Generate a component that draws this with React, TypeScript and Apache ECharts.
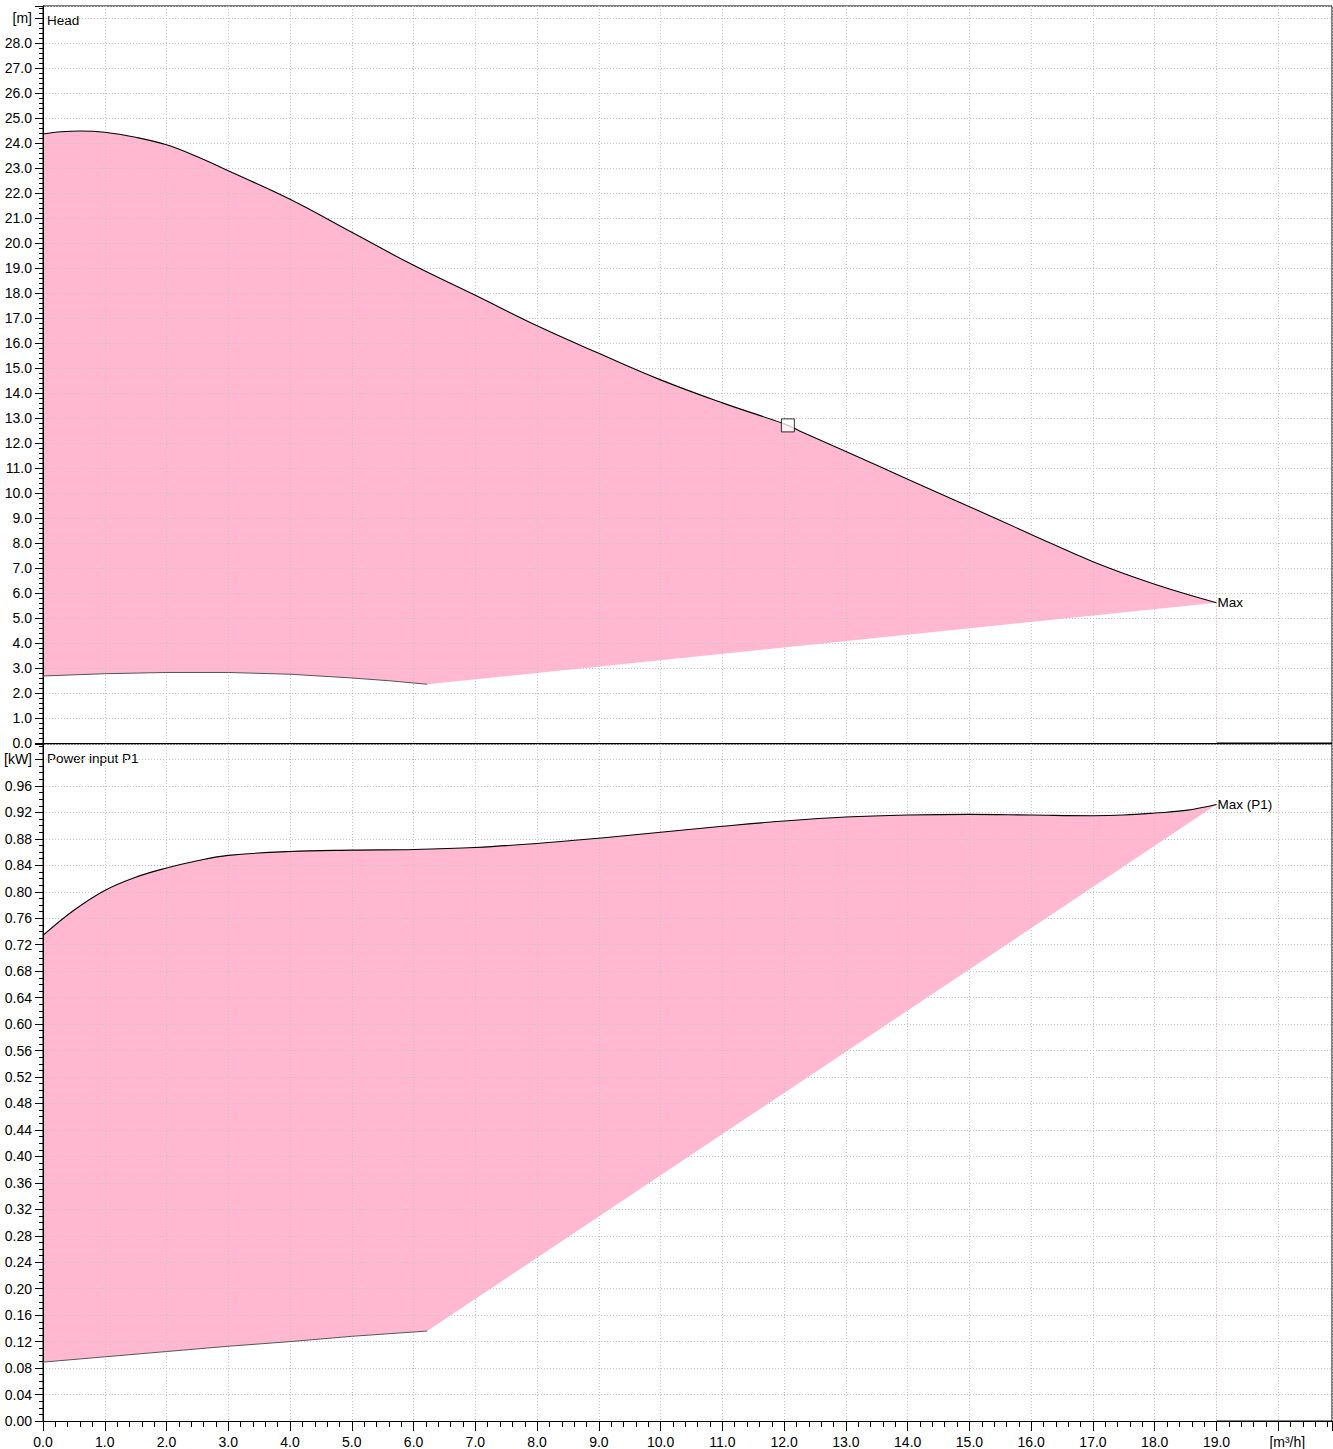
import React, { useEffect, useRef } from "react";
import * as echarts from "echarts";

// Head chart data [m] vs flow [m³/h]
const headQ = [0, 0.3, 0.6, 1, 1.5, 2, 2.5, 3, 4, 5, 6, 7, 8, 9, 10, 11, 12, 12.25, 13, 14, 15, 16, 17, 18, 19];
const headMax = [24.35, 24.44, 24.47, 24.42, 24.22, 23.92, 23.44, 22.88, 21.74, 20.42, 19.1, 17.9, 16.68, 15.58, 14.52, 13.6, 12.76, 12.48, 11.66, 10.55, 9.45, 8.34, 7.25, 6.35, 5.61];
const headMinQ = [0, 1, 2, 3, 4, 5, 5.6, 6.22];
const headMin = [2.68, 2.77, 2.82, 2.82, 2.75, 2.6, 2.49, 2.35];
const dutyPoint = [12.06, 12.7];

// Power input P1 [kW]
const powQ = [0, 0.5, 1, 1.5, 2, 2.5, 3, 4, 5, 6, 7, 8, 9, 10, 11, 12, 13, 14, 15, 16, 17, 17.5, 18, 18.5, 19];
const powMax = [0.734, 0.772, 0.802, 0.822, 0.836, 0.847, 0.855, 0.861, 0.863, 0.864, 0.867, 0.873, 0.881, 0.89, 0.899, 0.907, 0.913, 0.916, 0.917, 0.916, 0.915, 0.916, 0.919, 0.923, 0.932];
const powMinQ = [0, 1, 2, 3, 4, 5, 6.22];
const powMin = [0.089, 0.097, 0.105, 0.113, 0.12, 0.128, 0.136];

const X_MAX = 20.87;
const HEAD_Y_MAX = 29.47;
const POW_Y_MAX = 1.0234;

const PINK = "#ffb8d0";
const FONT = "Liberation Sans, Arial, sans-serif";
const GRIDLINE = { show: true, lineStyle: { color: "#c4c4c4", type: [1, 2] as any, width: 1 } };
const SMOOTH = 0.4;

const pairs = (q: number[], v: number[]) => q.map((x, i) => [x, v[i]]);

function bandSeries(idx: number, uq: number[], uv: number[], lq: number[], lv: number[], label: string) {
  const last = uq.length - 1;
  const base = { type: "line", xAxisIndex: idx, yAxisIndex: idx, silent: true, symbol: "none" };
  return [
    {
      ...base,
      z: 1,
      smooth: SMOOTH,
      data: pairs(uq, uv),
      lineStyle: { width: 0, opacity: 0 },
      areaStyle: { color: PINK, opacity: 1 },
    },
    {
      // white cover below the lower boundary (min curve, then straight to max end point)
      ...base,
      z: 1,
      data: [...pairs(lq, lv), [uq[last], uv[last]]],
      lineStyle: { width: 0, opacity: 0 },
      areaStyle: { color: "#fff", opacity: 1 },
    },
    {
      ...base,
      z: 3,
      smooth: SMOOTH,
      data: pairs(uq, uv),
      lineStyle: { color: "#000", width: 1.1 },
      endLabel: { show: true, formatter: label, distance: 1, color: "#000", fontFamily: FONT, fontSize: 13.5 },
    },
    {
      ...base,
      z: 3,
      data: pairs(lq, lv),
      lineStyle: { color: "#555", width: 1 },
    },
  ];
}

export default function App() {
  const ref = useRef<HTMLDivElement>(null);
  useEffect(() => {
    if (!ref.current) return;
    const chart = echarts.init(ref.current, undefined, { renderer: "svg" });
    const xBase = {
      type: "value",
      min: 0,
      max: X_MAX,
      interval: 1,
      z: 2,
      splitLine: GRIDLINE,
      axisLine: { show: true, lineStyle: { color: "#000", width: 1 } },
    };
    const yLabel = (digits: number, unitAt: number, unit: string) => ({
      show: true,
      color: "#000",
      fontFamily: FONT,
      fontSize: 14,
      margin: 11,
      showMaxLabel: false,
      formatter: (v: number) => (Math.abs(v - unitAt) < 1e-6 ? unit : v.toFixed(digits)),
    });
    const option: any = {
      animation: false,
      backgroundColor: "#fff",
      grid: [
        { left: 43, top: 6, width: 1289, height: 737, show: true, borderColor: "#000", borderWidth: 1, containLabel: false },
        { left: 43, top: 744, width: 1289, height: 677, show: true, borderColor: "#000", borderWidth: 1, containLabel: false },
      ],
      xAxis: [
        { ...xBase, gridIndex: 0, axisTick: { show: false }, axisLabel: { show: false } },
        {
          ...xBase,
          gridIndex: 1,
          axisTick: { show: true, length: 10, lineStyle: { color: "#000" } },
          minorTick: { show: true, splitNumber: 5, length: 6, lineStyle: { color: "#000" } },
          axisLabel: {
            show: true,
            color: "#000",
            fontFamily: FONT,
            fontSize: 14,
            margin: 14,
            showMaxLabel: false,
            formatter: (v: number) => {
              if (Math.abs(v - 20) < 1e-6) return "{u|[m³/h]}";
              if (Math.abs(v - Math.round(v)) < 1e-6) return v.toFixed(1);
              return "";
            },
            rich: { u: { fontFamily: FONT, fontSize: 14, color: "#000", padding: [0, 0, 0, 18] } },
          },
        },
      ],
      yAxis: [
        {
          type: "value",
          gridIndex: 0,
          min: 0,
          max: HEAD_Y_MAX,
          interval: 1,
          z: 2,
          splitLine: GRIDLINE,
          axisLine: { show: true, lineStyle: { color: "#000" } },
          axisTick: { show: true, length: 8, lineStyle: { color: "#000" } },
          minorTick: { show: true, splitNumber: 5, length: 4, lineStyle: { color: "#000" } },
          axisLabel: yLabel(1, 29, "[m]"),
        },
        {
          type: "value",
          gridIndex: 1,
          min: 0,
          max: POW_Y_MAX,
          interval: 0.04,
          z: 2,
          splitLine: GRIDLINE,
          axisLine: { show: true, lineStyle: { color: "#000" } },
          axisTick: { show: true, length: 8, lineStyle: { color: "#000" } },
          minorTick: { show: true, splitNumber: 4, length: 4, lineStyle: { color: "#000" } },
          axisLabel: yLabel(2, 1.0, "[kW]"),
        },
      ],
      graphic: [
        { type: "text", x: 47, y: 20, style: { text: "Head", font: `13.5px ${FONT}`, fill: "#000", textVerticalAlign: "middle" } },
        { type: "text", x: 47, y: 758, style: { text: "Power input P1", font: `13.5px ${FONT}`, fill: "#000", textVerticalAlign: "middle" } },
      ],
      series: [
        ...bandSeries(0, headQ, headMax, headMinQ, headMin, "Max"),
        {
          type: "scatter",
          xAxisIndex: 0,
          yAxisIndex: 0,
          z: 4,
          silent: true,
          symbol: "rect",
          symbolSize: 13,
          data: [dutyPoint],
          itemStyle: { color: "#fff", borderColor: "#000", borderWidth: 1 },
        },
        ...bandSeries(1, powQ, powMax, powMinQ, powMin, "Max (P1)"),
      ],
    };
    chart.setOption(option);
    return () => chart.dispose();
  }, []);
  return <div ref={ref} style={{ position: "absolute", left: 0, top: 0, width: 1333, height: 1449 }} />;
}
